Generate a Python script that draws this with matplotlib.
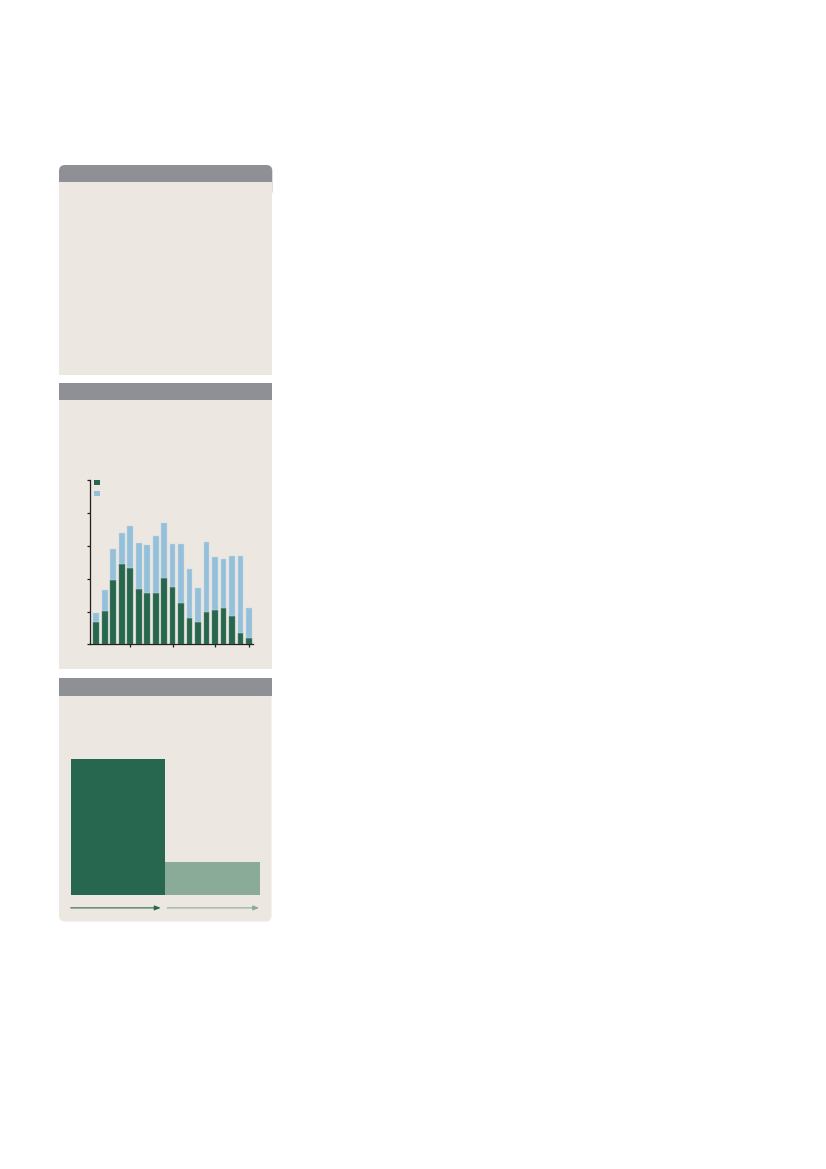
import numpy as np
import matplotlib
matplotlib.use("Agg")
import matplotlib.pyplot as plt
import matplotlib.patches as patches

# stacked bar chart (middle panel): dark part and light part of each bar
dark_vals = [0.69, 1.01, 1.96, 2.46, 2.33, 1.68, 1.56, 1.56, 2.02, 1.74,
             1.27, 0.80, 0.69, 0.98, 1.04, 1.11, 0.87, 0.34, 0.20]
total_vals = [0.95, 1.66, 2.91, 3.40, 3.60, 3.07, 3.01, 3.30, 3.68, 3.04,
              3.04, 2.30, 1.72, 3.13, 2.66, 2.60, 2.69, 2.69, 1.11]
light_vals = [t - d for t, d in zip(total_vals, dark_vals)]
x_ticks = [4, 9, 14, 18]
y_ticks = [0, 1, 2, 3, 4, 5]

# two-bar chart (bottom panel)
block_vals = [100, 24.5]

GREY = '#8f9095'
BEIGE = '#ece7e1'
DARK = '#28674f'
BLUE = '#95c0da'
SAGE = '#89ab98'
INK = '#231f20'

W, H = 826, 1169
fig = plt.figure(figsize=(W / 100, H / 100), dpi=100)
fig.patch.set_facecolor('white')

page = fig.add_axes([0, 0, 1, 1])
page.set_xlim(0, W)
page.set_ylim(H, 0)
page.axis('off')


def rect(x0, y0, x1, y1, color, rounded=0):
    if rounded:
        p = patches.FancyBboxPatch((x0 + rounded, y0 + rounded),
                                   x1 - x0 - 2 * rounded, y1 - y0 - 2 * rounded,
                                   boxstyle='round,pad=%g' % rounded,
                                   fc=color, ec='none')
    else:
        p = patches.Rectangle((x0, y0), x1 - x0, y1 - y0, fc=color, ec='none')
    page.add_patch(p)


L, R = 59, 271.5
# panel 1: rounded header, square body
rect(L, 165, R + 0.8, 197, GREY, rounded=6)
rect(L, 182, R, 375, BEIGE)
# panel 2
rect(L, 383, R, 400, GREY)
rect(L, 400, R, 669, BEIGE)
# panel 3: rounded bottom
rect(L, 678, R, 921.5, BEIGE, rounded=6)
rect(L, 678, R, 695.5, GREY)


def px_axes(x0, y0, x1, y1):
    return fig.add_axes([x0 / W, 1 - y1 / H, (x1 - x0) / W, (y1 - y0) / H])


# middle panel stacked bars
ax = px_axes(90, 480, 253, 644.5)
ax.patch.set_alpha(0)
idx = np.arange(len(dark_vals))
ax.bar(idx, dark_vals, width=0.68, color=DARK, edgecolor='#5f8d7a', linewidth=0.3)
ax.bar(idx, light_vals, bottom=dark_vals, width=0.68, color=BLUE,
       edgecolor='#c3dbe9', linewidth=0.3)
ax.set_xlim(-0.74, 18.48)
ax.set_ylim(0, 5)
ax.set_xticks(x_ticks)
ax.set_yticks(y_ticks)
ax.set_xticklabels([])
ax.set_yticklabels([])
for s in ['top', 'right']:
    ax.spines[s].set_visible(False)
for s in ['left', 'bottom']:
    ax.spines[s].set_color(INK)
    ax.spines[s].set_linewidth(0.9)
ax.tick_params(length=2.2, width=0.9, color=INK)

# legend swatches
page.add_patch(patches.Rectangle((94.3, 480), 5.6, 5.2, fc=DARK, ec='none'))
page.add_patch(patches.Rectangle((94.3, 490.6), 5.6, 5.2, fc=BLUE, ec='none'))

# bottom panel blocks
bx = px_axes(70.7, 759.3, 260, 895)
bx.patch.set_alpha(0)
bx.bar([0, 1], block_vals, width=1.0, color=[DARK, SAGE], edgecolor='none')
bx.set_xlim(-0.5, 1.5)
bx.set_ylim(0, 100)
bx.axis('off')
arrow_y = -9.5
bx.annotate('', xy=(0.45, arrow_y), xytext=(-0.5, arrow_y), annotation_clip=False,
            arrowprops=dict(arrowstyle='-|>,head_length=0.35,head_width=0.14',
                            color=DARK, lw=0.8, shrinkA=0, shrinkB=0))
bx.annotate('', xy=(1.49, arrow_y), xytext=(0.52, arrow_y), annotation_clip=False,
            arrowprops=dict(arrowstyle='-|>,head_length=0.35,head_width=0.14',
                            color=SAGE, lw=0.8, shrinkA=0, shrinkB=0))

fig.savefig('out.png', dpi=100, facecolor='white')
